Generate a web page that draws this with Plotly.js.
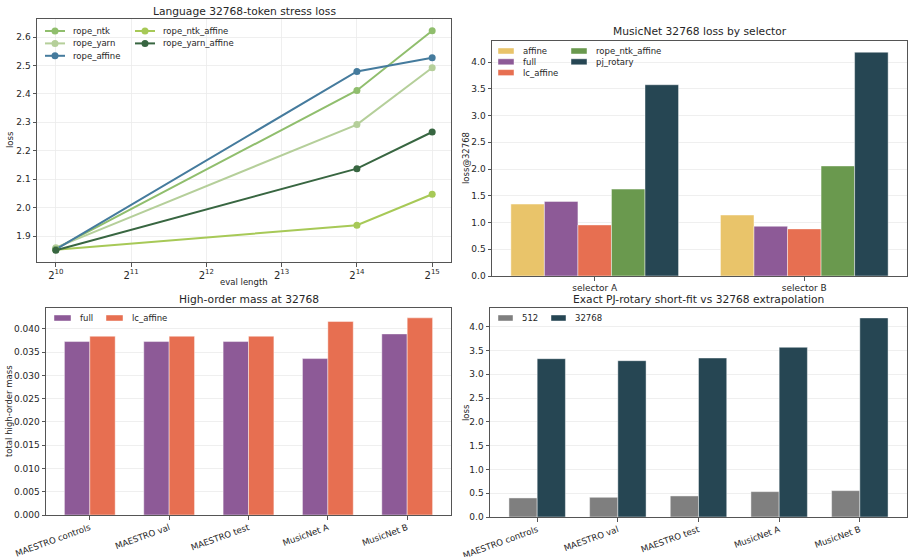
<!DOCTYPE html>
<html>
<head>
<meta charset="utf-8">
<script src="https://cdn.plot.ly/plotly-3.0.1.min.js"></script>
<style>
  html, body { margin: 0; padding: 0; background: #ffffff; }
  #chart { width: 914px; height: 557px; }
</style>
</head>
<body>
<div id="chart"></div>
<script>
// ---- Language stress loss (line chart) ----
const evalLengths = [1024, 16384, 32768];
const lineSeriesNames = ["rope_ntk", "rope_yarn", "rope_affine", "rope_ntk_affine", "rope_yarn_affine"];
const ropeNtk        = [1.856, 2.412, 2.622];
const ropeYarn       = [1.859, 2.292, 2.492];
const ropeAffine     = [1.853, 2.479, 2.527];
const ropeNtkAffine  = [1.852, 1.938, 2.047];
const ropeYarnAffine = [1.850, 2.137, 2.266];
const lengthTickExps = [10, 11, 12, 13, 14, 15];

// ---- MusicNet loss by selector ----
const selectors = ["selector A", "selector B"];
const selectorSeriesNames = ["affine", "full", "lc_affine", "rope_ntk_affine", "pj_rotary"];
const selAffine        = [1.345, 1.140];
const selFull          = [1.395, 0.930];
const selLcAffine      = [0.955, 0.881];
const selRopeNtkAffine = [1.625, 2.058];
const selPjRotary      = [3.577, 4.185];

// ---- High-order mass ----
const splits = ["MAESTRO controls", "MAESTRO val", "MAESTRO test", "MusicNet A", "MusicNet B"];
const massFull     = [0.03728, 0.03728, 0.03728, 0.03362, 0.03892];
const massLcAffine = [0.03842, 0.03842, 0.03842, 0.04158, 0.04237];

// ---- PJ-rotary short fit vs extrapolation ----
const pjLoss512   = [0.400, 0.414, 0.442, 0.533, 0.554];
const pjLoss32768 = [3.326, 3.284, 3.340, 3.565, 4.182];

// ---- styling ----
const FONT = "DejaVu Sans, Arial, sans-serif";
const TXT = "#262626";
const lineColors = ["#90be6d", "#b5cf9a", "#457b9d", "#a7c957", "#386641"];
const barColors = {
  affine: "#e9c46a", full: "#8d5a97", lc_affine: "#e76f51",
  rope_ntk_affine: "#6a994e", pj_rotary: "#264653", s512: "#7f7f7f"
};
const W = 914, H = 557;
const px = x => x / W;
const py = y => 1 - y / H;

const traces = [];
const lineData = [ropeNtk, ropeYarn, ropeAffine, ropeNtkAffine, ropeYarnAffine];
lineData.forEach((ys, i) => {
  traces.push({
    type: "scatter", mode: "lines+markers", name: lineSeriesNames[i],
    x: evalLengths, y: ys, xaxis: "x", yaxis: "y",
    line: { color: lineColors[i], width: 2 },
    marker: { color: lineColors[i], size: 7 },
    showlegend: false
  });
});

const edge = { color: "rgba(255,255,255,0.55)", width: 0.8 };

// grouped bars: explicit offsets so each panel keeps its own bar width
function groupedBars(cats, seriesList, names, colors, width, xa, ya) {
  const n = seriesList.length;
  seriesList.forEach((vals, i) => {
    traces.push({
      type: "bar", name: names[i], x: cats, y: vals, xaxis: xa, yaxis: ya,
      width: width, offset: -n * width / 2 + i * width,
      marker: { color: colors[i], line: edge },
      showlegend: false
    });
  });
}

groupedBars(selectors,
  [selAffine, selFull, selLcAffine, selRopeNtkAffine, selPjRotary],
  selectorSeriesNames,
  selectorSeriesNames.map(k => barColors[k]), 0.16, "x2", "y2");

groupedBars(splits, [massFull, massLcAffine], ["full", "lc_affine"],
  [barColors.full, barColors.lc_affine], 0.32, "x3", "y3");

groupedBars(splits, [pjLoss512, pjLoss32768], ["512", "32768"],
  [barColors.s512, barColors.pj_rotary], 0.35, "x4", "y4");

const axisBase = {
  showline: true, mirror: true, linecolor: "#555555", linewidth: 1,
  ticks: "outside", ticklen: 3.5, tickwidth: 1, tickcolor: "#555555",
  tickfont: { family: FONT, size: 9, color: TXT },
  zeroline: false, gridcolor: "#ebebeb", gridwidth: 0.8
};
const slantFont = { family: FONT, size: 8.6, color: TXT };

const layout = {
  width: W, height: H,
  margin: { l: 0, r: 0, t: 0, b: 0 },
  paper_bgcolor: "#ffffff", plot_bgcolor: "#ffffff",
  barmode: "overlay",
  showlegend: false,
  font: { family: FONT, color: TXT },
  xaxis: Object.assign({}, axisBase, {
    domain: [px(37), px(451)], anchor: "y", type: "log",
    range: [9.75 * Math.LOG10E * Math.LN2, 15.25 * Math.LOG10E * Math.LN2],
    tickvals: lengthTickExps.map(e => Math.pow(2, e)),
    ticktext: lengthTickExps.map(e => "2<sup>" + e + "</sup>"),
    showgrid: true, tickfont: { family: FONT, size: 10, color: TXT }
  }),
  yaxis: Object.assign({}, axisBase, {
    domain: [py(262), py(19)], anchor: "x",
    range: [1.8086, 2.6635], tick0: 1.9, dtick: 0.1, tickformat: ".1f", showgrid: true
  }),
  xaxis2: Object.assign({}, axisBase, {
    domain: [px(492), px(907)], anchor: "y2", type: "category",
    range: [-0.49, 1.49], showgrid: false
  }),
  yaxis2: Object.assign({}, axisBase, {
    domain: [py(276), py(41)], anchor: "x2",
    range: [0, 4.395], dtick: 0.5, tickformat: ".1f", showgrid: true
  }),
  xaxis3: Object.assign({}, axisBase, {
    domain: [px(46), px(451)], anchor: "y3", type: "category",
    range: [-0.552, 4.552], showgrid: false, tickangle: -20, tickfont: slantFont
  }),
  yaxis3: Object.assign({}, axisBase, {
    domain: [py(515), py(308)], anchor: "x3",
    range: [0, 0.04449], dtick: 0.005, tickformat: ".3f", showgrid: true
  }),
  xaxis4: Object.assign({}, axisBase, {
    domain: [px(490), px(907)], anchor: "y4", type: "category",
    range: [-0.585, 4.585], showgrid: false, tickangle: -20, tickfont: slantFont
  }),
  yaxis4: Object.assign({}, axisBase, {
    domain: [py(517), py(308)], anchor: "x4",
    range: [0, 4.391], dtick: 0.5, tickformat: ".1f", showgrid: true
  }),
  annotations: [],
  shapes: []
};

function text(str, x, y, opts) {
  layout.annotations.push(Object.assign({
    text: str, xref: "paper", yref: "paper", x: px(x), y: py(y),
    xanchor: "center", yanchor: "middle", showarrow: false,
    font: { family: FONT, size: 9, color: TXT }
  }, opts || {}));
}

// panel titles
const titleFont = { family: FONT, size: 10.7, color: TXT };
text("Language 32768-token stress loss", 244, 11, { font: titleFont });
text("MusicNet 32768 loss by selector", 699.5, 32, { font: titleFont });
text("High-order mass at 32768", 248.5, 299.5, { font: titleFont });
text("Exact PJ-rotary short-fit vs 32768 extrapolation", 698.5, 299.5, { font: titleFont });

// axis titles
const labFont = { family: FONT, size: 8.5, color: TXT };
text("eval length", 244, 282, { font: labFont });
text("loss", 10, 140, { font: labFont, textangle: -90 });
text("loss@32768", 466, 158, { font: labFont, textangle: -90 });
text("total high-order mass", 9, 411, { font: labFont, textangle: -90 });
text("loss", 466, 412, { font: labFont, textangle: -90 });

// legend helpers
const legFont = { family: FONT, size: 8.5, color: TXT };
function lineKey(name, color, x0, x1, y) {
  layout.shapes.push({ type: "line", xref: "paper", yref: "paper",
    x0: px(x0), x1: px(x1), y0: py(y), y1: py(y), line: { color: color, width: 2 } });
  layout.shapes.push({ type: "circle", xref: "paper", yref: "paper",
    xsizemode: "pixel", ysizemode: "pixel",
    xanchor: px((x0 + x1) / 2), yanchor: py(y), x0: -3.5, x1: 3.5, y0: -3.5, y1: 3.5,
    fillcolor: color, line: { color: color, width: 0 } });
  text(name, x1 + 6, y, { xanchor: "left", font: legFont });
}
function boxKey(name, color, x0, x1, y) {
  layout.shapes.push({ type: "rect", xref: "paper", yref: "paper",
    x0: px(x0), x1: px(x1), y0: py(y + 3), y1: py(y - 3),
    fillcolor: color, line: { color: "rgba(255,255,255,0.55)", width: 0.8 } });
  text(name, x1 + 7, y, { xanchor: "left", font: legFont });
}

// line-chart legend: two columns
const rowGap = 12.4;
[0, 1, 2].forEach((k, r) => lineKey(lineSeriesNames[k], lineColors[k], 45, 65, 31 + r * rowGap));
[3, 4].forEach((k, r) => lineKey(lineSeriesNames[k], lineColors[k], 135, 155, 31 + r * rowGap));

// selector legend: two columns
[0, 1, 2].forEach((k, r) => boxKey(selectorSeriesNames[k], barColors[selectorSeriesNames[k]], 498, 514, 51 + r * 10.8));
[3, 4].forEach((k, r) => boxKey(selectorSeriesNames[k], barColors[selectorSeriesNames[k]], 571, 587, 51 + r * 10.8));

// high-order mass legend: one row
boxKey("full", barColors.full, 54, 71, 318);
boxKey("lc_affine", barColors.lc_affine, 106, 123, 318);

// PJ-rotary legend: one row
boxKey("512", barColors.s512, 498, 513, 318);
boxKey("32768", barColors.pj_rotary, 551, 566, 318);

Plotly.newPlot("chart", traces, layout, { displayModeBar: false, staticPlot: true });
</script>
</body>
</html>
